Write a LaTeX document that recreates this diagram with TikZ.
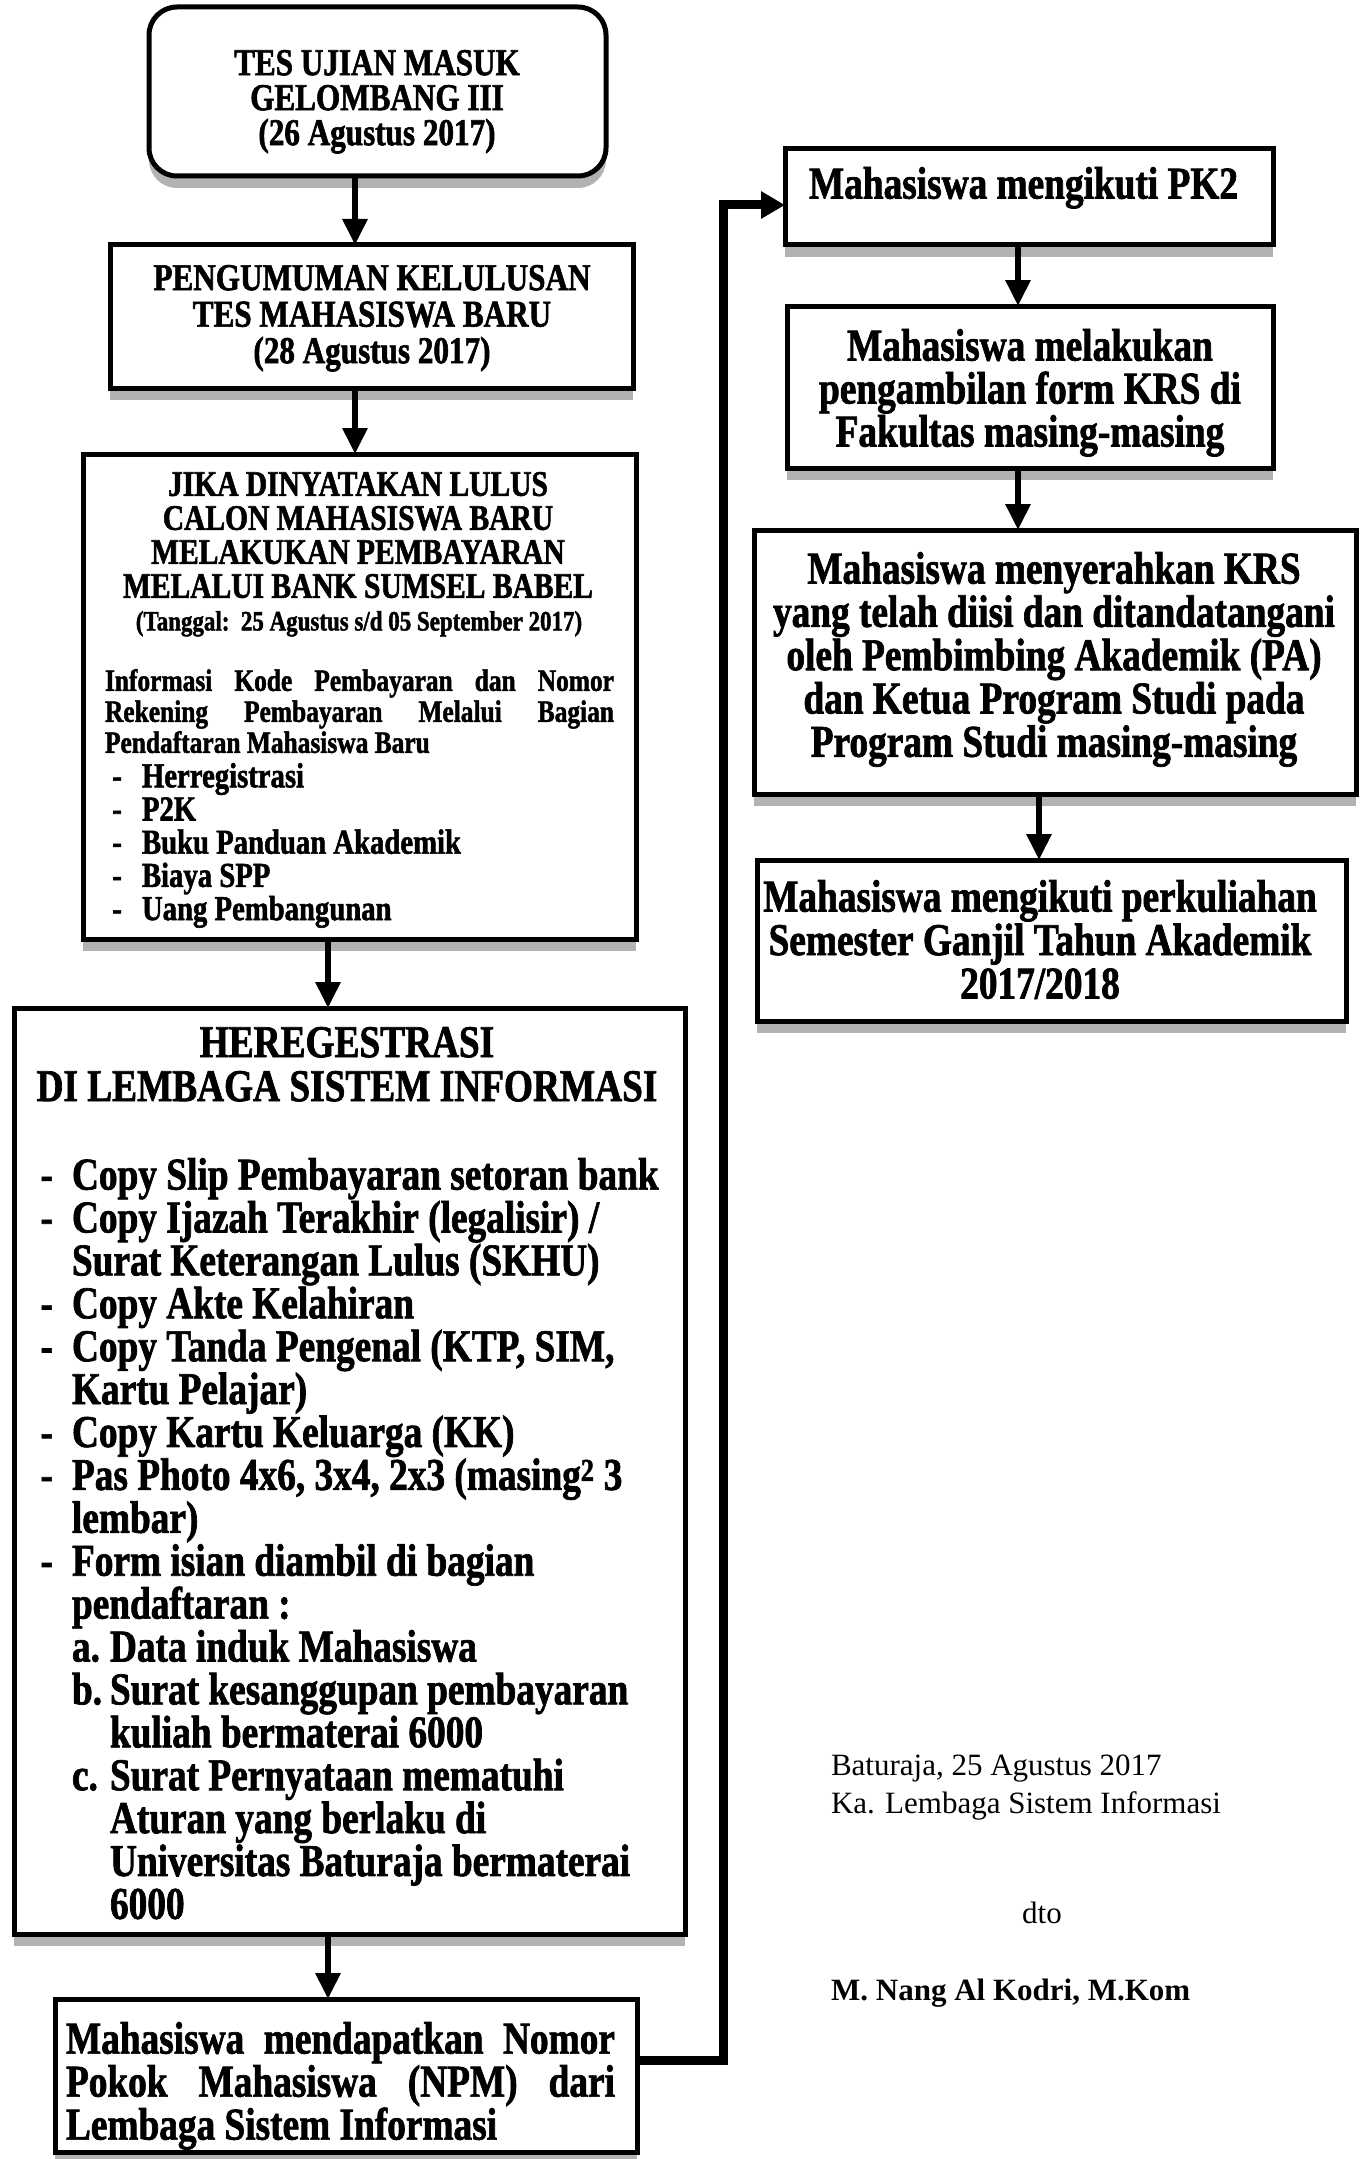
\documentclass[tikz,border=0pt]{standalone}
\usepackage{fontspec}
\setmainfont{Liberation Serif}
\newfontfamily\bxf{Liberation Serif}[UprightFont={* Bold}, FakeStretch=0.82, FakeBold=1.5]
\usetikzlibrary{arrows.meta,shadows}
\hyphenpenalty=10000
\exhyphenpenalty=10000
\tikzset{
  boxst/.style={draw, line width=5pt, fill=white, inner sep=0pt, outer sep=0pt,
    drop shadow={shadow xshift=0pt, shadow yshift=-12pt, opacity=1, fill=gray!60}},
  arr/.style={line width=6pt, -{Triangle[length=26pt,width=24pt]}},
  elbow/.style={line width=9pt, -{Triangle[length=24pt,width=26pt]}},
  btxt/.style n args={2}{inner sep=0pt, outer sep=0pt, font=\bxf\fontsize{#1pt}{#2pt}\selectfont},
  rtxt/.style n args={2}{inner sep=0pt, outer sep=0pt, font=\fontsize{#1pt}{#2pt}\selectfont},
}
\begin{document}
\begin{tikzpicture}[x=1pt,y=-1pt]
\useasboundingbox (0,0) rectangle (1364,2159);
% boxes
\node[boxst, rounded corners=28pt, minimum width=457pt, minimum height=169pt] (b1) at (377.5,91.5) {};
\node[boxst, minimum width=523pt, minimum height=143pt] (b2) at (371.5,316.5) {};
\node[boxst, minimum width=553pt, minimum height=485pt] (b3) at (359.5,696.5) {};
\node[boxst, minimum width=671pt, minimum height=926pt] (b4) at (349.5,1471) {};
\node[boxst, minimum width=582pt, minimum height=153pt] (b5) at (346,2075.5) {};
\node[boxst, minimum width=488pt, minimum height=96pt] (pk2) at (1029,197) {};
\node[boxst, minimum width=486pt, minimum height=162pt] (b7) at (1030,387) {};
\node[boxst, minimum width=602pt, minimum height=264pt] (b8) at (1055,662) {};
\node[boxst, minimum width=589pt, minimum height=161pt] (b9) at (1051.5,940.5) {};

% texts
\node[btxt={38}{35}, align=center, anchor=north] (t1) at (377,50)
  {TES UJIAN MASUK\\GELOMBANG III\\(26 Agustus 2017)};
\node[btxt={38}{36.5}, align=center, anchor=north] (t2) at (372,265)
  {PENGUMUMAN KELULUSAN\\TES MAHASISWA BARU\\(28 Agustus 2017)};
\node[btxt={36}{34}, align=center, anchor=north] (t3a) at (358,472)
  {JIKA DINYATAKAN LULUS\\CALON MAHASISWA BARU\\MELAKUKAN PEMBAYARAN\\MELALUI BANK SUMSEL BABEL};
\node[btxt={28}{30}, align=center, anchor=north] (t3b) at (359,611)
  {(Tanggal:\ \ 25 Agustus s/d 05 September 2017)};
\node[btxt={31}{31}, text width=509pt, align=justify, anchor=north west] (t3c) at (105,669)
  {Informasi Kode Pembayaran dan Nomor\linebreak Rekening Pembayaran Melalui Bagian\linebreak Pendaftaran Mahasiswa Baru};
\node[btxt={35}{33.2}, align=left, anchor=north west] (t3d) at (142,763)
  {\llap{-\hspace{20pt}}Herregistrasi\\
   \llap{-\hspace{20pt}}P2K\\
   \llap{-\hspace{20pt}}Buku Panduan Akademik\\
   \llap{-\hspace{20pt}}Biaya SPP\\
   \llap{-\hspace{20pt}}Uang Pembangunan};
\node[btxt={45.5}{44}, align=center, anchor=north] (t4a) at (347,1027)
  {HEREGESTRASI\\DI LEMBAGA SISTEM INFORMASI};
\node[btxt={45.5}{42.9}, align=left, anchor=north west] (t4b) at (72,1158)
  {\llap{-\hspace{19pt}}Copy Slip Pembayaran setoran bank\\
   \llap{-\hspace{19pt}}Copy Ijazah Terakhir (legalisir) /\\
   Surat Keterangan Lulus (SKHU)\\
   \llap{-\hspace{19pt}}Copy Akte Kelahiran\\
   \llap{-\hspace{19pt}}Copy Tanda Pengenal (KTP, SIM,\\
   Kartu Pelajar)\\
   \llap{-\hspace{19pt}}Copy Kartu Keluarga (KK)\\
   \llap{-\hspace{19pt}}Pas Photo 4x6, 3x4, 2x3 (masing\textsuperscript{2} 3\\
   lembar)\\
   \llap{-\hspace{19pt}}Form isian diambil di bagian\\
   pendaftaran :\\
   \makebox[38pt][l]{a.}Data induk Mahasiswa\\
   \makebox[38pt][l]{b.}Surat kesanggupan pembayaran\\
   \hspace*{38pt}kuliah bermaterai 6000\\
   \makebox[38pt][l]{c.}Surat Pernyataan mematuhi\\
   \hspace*{38pt}Aturan yang berlaku di\\
   \hspace*{38pt}Universitas Baturaja bermaterai\\
   \hspace*{38pt}6000};
\node[btxt={45.5}{43}, text width=549pt, align=justify, anchor=north west] (t5) at (66,2022)
  {Mahasiswa mendapatkan Nomor\linebreak Pokok Mahasiswa (NPM) dari\linebreak Lembaga Sistem Informasi};
\node[btxt={45.5}{43}, anchor=north west] (t6) at (809,167) {Mahasiswa mengikuti PK2};
\node[btxt={45.5}{43}, align=center, anchor=north] (t7) at (1030,329)
  {Mahasiswa melakukan\\pengambilan form KRS di\\Fakultas masing-masing};
\node[btxt={45.5}{43.3}, align=center, anchor=north] (t8) at (1054,552)
  {Mahasiswa menyerahkan KRS\\yang telah diisi dan ditandatangani\\oleh Pembimbing Akademik (PA)\\dan Ketua Program Studi pada\\Program Studi masing-masing};
\node[btxt={45.5}{43.5}, align=center, anchor=north] (t9) at (1040,880)
  {Mahasiswa mengikuti perkuliahan\\Semester Ganjil Tahun Akademik\\2017/2018};

% signature
\node[rtxt={31}{38}, align=left, anchor=north west] (s1) at (831,1755)
  {Baturaja, 25 Agustus 2017\\Ka. Lembaga Sistem Informasi};
\node[rtxt={31}{38}, anchor=north] (s2) at (1042,1902) {dto};
\node[inner sep=0pt, font=\bfseries\fontsize{31pt}{38pt}\selectfont, anchor=north west] (s3) at (831,1979)
  {M. Nang Al Kodri, M.Kom};

% connectors
\coordinate (ax1) at (355,0);
\coordinate (ax2) at (328,0);
\coordinate (ax3) at (1018,0);
\coordinate (ax4) at (1039,0);
\draw[arr] (b1.south -| ax1) -- (b2.north -| ax1);
\draw[arr] (b2.south -| ax1) -- (b3.north -| ax1);
\draw[arr] (b3.south -| ax2) -- (b4.north -| ax2);
\draw[arr] (b4.south -| ax2) -- (b5.north -| ax2);
\draw[arr] (pk2.south -| ax3) -- (b7.north -| ax3);
\draw[arr] (b7.south -| ax3) -- (b8.north -| ax3);
\draw[arr] (b8.south -| ax4) -- (b9.north -| ax4);
\coordinate (e1) at (723,2060);
\coordinate (e2) at (723,205);
\draw[elbow] (b5.east |- e1) -- (e1) -- (e2) -- (pk2.west |- e2);
\end{tikzpicture}
\end{document}
